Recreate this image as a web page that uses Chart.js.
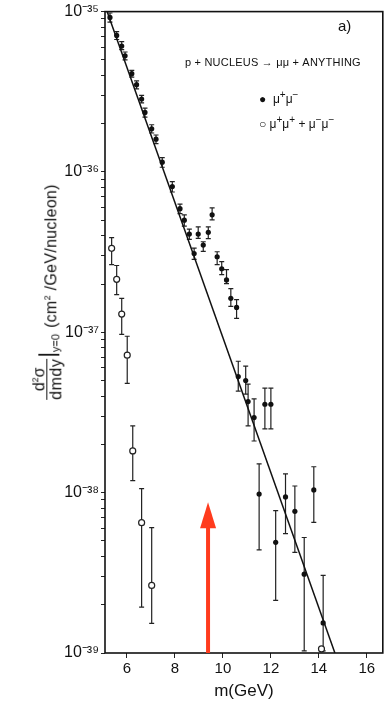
<!DOCTYPE html>
<html>
<head>
<meta charset="utf-8">
<script src="https://cdn.jsdelivr.net/npm/chart.js@4.4.1/dist/chart.umd.min.js"></script>
<style>
  body { margin: 0; background: #fff; }
  #wrap { position: relative; width: 388px; height: 706px; font-family: "Liberation Sans", Arial, sans-serif; color: #111; }
  canvas { position: absolute; left: 0; top: 0; }
  .note { position: absolute; white-space: nowrap; }
  #ytitle { position: absolute; left: 46px; top: 292px; white-space: nowrap; transform: translate(-50%, -50%) rotate(-90deg);
            display: flex; align-items: center; font-size: 16px; }
  .frac { display: inline-flex; flex-direction: column; align-items: center; line-height: 15px; }
  .frac .den { border-top: 1px solid #111; padding-top: 1px; letter-spacing: 0.5px; }
  .bar { font-size: 22px; margin-left: 1px; position: relative; top: 2px; }
  .bar sub { font-size: 11px; }
  .units { margin-left: 6px; position: relative; top: 5px; letter-spacing: 0.3px; }
</style>
</head>
<body>
<div id="wrap">
  <canvas id="chart" width="388" height="706"></canvas>
  <div class="note" style="left:338px; top:17px; font-size:15px;">a)</div>
  <div class="note" style="left:185px; top:56px; font-size:11px; letter-spacing:0.2px;">p + NUCLEUS → μμ + ANYTHING</div>
  <div class="note" style="left:259px; top:89px; font-size:12px;">● &nbsp;μ<sup>+</sup>μ<sup>−</sup></div>
  <div class="note" style="left:259px; top:114px; font-size:12px;">○ μ<sup>+</sup>μ<sup>+</sup> + μ<sup>−</sup>μ<sup>−</sup></div>
  <div id="ytitle">
    <span class="frac"><span>d<sup style="font-size:9px">2</sup>σ</span><span class="den">dmdy</span></span>
    <span class="bar">|<sub>y=0</sub></span>
    <span class="units">(cm<sup style="font-size:9px">2</sup> /GeV/nucleon)</span>
  </div>
</div>
<script>
// fitted line (two end points)
const fitMass = [5.17, 14.67];
const fitSigma = [1e-35, 1e-39];

// mu+ mu- (opposite sign), filled points
const oppMass = [5.29, 5.57, 5.78, 5.92, 6.20, 6.40, 6.61, 6.75, 7.03, 7.21, 7.47, 7.89, 8.21, 8.39, 8.60, 8.80,
                 8.97, 9.18, 9.39, 9.55, 9.76, 9.95, 10.15, 10.33, 10.57,
                 10.64, 10.95, 11.05, 11.30, 11.75, 12.00, 11.51, 12.20, 12.61, 13.00, 13.39, 13.79, 14.18];
const oppSigma = [9.2e-36, 7.1e-36, 6.1e-36, 5.3e-36, 4.1e-36, 3.5e-36, 2.85e-36, 2.35e-36, 1.86e-36, 1.6e-36, 1.15e-36, 8.1e-37, 5.9e-37, 5.0e-37, 4.1e-37, 3.1e-37,
                  4.1e-37, 3.5e-37, 4.2e-37, 5.4e-37, 2.96e-37, 2.49e-37, 2.12e-37, 1.63e-37, 1.43e-37,
                  5.3e-38, 5.0e-38, 3.7e-38, 2.94e-38, 3.56e-38, 3.56e-38, 9.8e-39, 4.9e-39, 9.4e-39, 7.65e-39, 3.1e-39, 1.04e-38, 1.54e-39];
const oppLow = [8.6e-36, 6.7e-36, 5.8e-36, 5.0e-36, 3.9e-36, 3.3e-36, 2.7e-36, 2.2e-36, 1.75e-36, 1.5e-36, 1.07e-36, 7.5e-37, 5.5e-37, 4.6e-37, 3.8e-37, 2.85e-37,
                3.85e-37, 3.2e-37, 3.84e-37, 5.03e-37, 2.64e-37, 2.29e-37, 2.01e-37, 1.45e-37, 1.22e-37,
                4.3e-38, 4.12e-38, 2.61e-38, 2.1e-38, 2.5e-38, 2.5e-38, 4.4e-39, 2.13e-39, 5.56e-39, 4.24e-39, 1.03e-39, 6.52e-39, 1.03e-39];
const oppHigh = [9.8e-36, 7.5e-36, 6.5e-36, 5.6e-36, 4.3e-36, 3.7e-36, 3.0e-36, 2.5e-36, 1.97e-36, 1.7e-36, 1.23e-36, 8.7e-37, 6.3e-37, 5.4e-37, 4.4e-37, 3.35e-37,
                 4.55e-37, 3.67e-37, 4.55e-37, 5.97e-37, 3.18e-37, 2.76e-37, 2.46e-37, 1.87e-37, 1.60e-37,
                 6.6e-38, 6.15e-38, 4.75e-38, 3.84e-38, 4.49e-38, 4.49e-38, 1.51e-38, 7.73e-39, 1.31e-38, 1.10e-38, 5.25e-39, 1.45e-38, 3.05e-39];

// mu+ mu+ + mu- mu- (like sign), open points
const likeMass = [5.36, 5.57, 5.78, 6.01, 6.24, 6.61, 7.03, 14.11];
const likeSigma = [3.34e-37, 2.14e-37, 1.30e-37, 7.2e-38, 1.82e-38, 6.5e-39, 2.64e-39, 1.06e-39];
const likeLow = [2.64e-37, 1.72e-37, 9.7e-38, 4.8e-38, 1.19e-38, 1.93e-39, 1.53e-39, 1.06e-39];
const likeHigh = [3.89e-37, 2.61e-37, 1.63e-37, 9.45e-38, 2.61e-38, 1.06e-38, 6.06e-39, 1.06e-39];

const massTicks = [6, 8, 10, 12, 14, 16];
const decades = [1e-39, 1e-38, 1e-37, 1e-36];
const minorSteps = [1, 2, 3, 4, 5, 6, 7, 8, 9];

// red arrow
const arrowMass = 9.38;
const arrowTop = 8.7e-39;

const sup = { '-': '⁻', '0': '⁰', '1': '¹', '2': '²', '3': '³', '4': '⁴', '5': '⁵', '6': '⁶', '7': '⁷', '8': '⁸', '9': '⁹' };
function powerLabel(v) {
    const e = Math.log10(v);
    if (Math.abs(e - Math.round(e)) > 1e-6) return '';
    return '10' + String(Math.round(e)).split('').map(c => sup[c]).join('');
}

const errorBars = {
    id: 'errorBars',
    beforeDatasetsDraw(chart) {
        const ctx = chart.ctx;
        const xs = chart.scales.x, ys = chart.scales.y;
        ctx.save();
        ctx.strokeStyle = '#222';
        ctx.lineWidth = 1.2;
        chart.data.datasets.forEach(ds => {
            if (!ds.errLow) return;
            ds.data.forEach((p, i) => {
                const px = xs.getPixelForValue(p.x);
                const y1 = ys.getPixelForValue(ds.errLow[i]);
                const y2 = ys.getPixelForValue(ds.errHigh[i]);
                if (Math.abs(y1 - y2) < 1) return;
                ctx.beginPath();
                ctx.moveTo(px, y1); ctx.lineTo(px, y2);
                ctx.moveTo(px - 2.5, y1); ctx.lineTo(px + 2.5, y1);
                ctx.moveTo(px - 2.5, y2); ctx.lineTo(px + 2.5, y2);
                ctx.stroke();
            });
        });
        ctx.restore();
    }
};

const frameAndArrow = {
    id: 'frameAndArrow',
    afterDatasetsDraw(chart) {
        const ctx = chart.ctx;
        const a = chart.chartArea;
        const xs = chart.scales.x, ys = chart.scales.y;
        ctx.save();
        ctx.strokeStyle = '#111';
        ctx.lineWidth = 1.6;
        ctx.strokeRect(a.left, a.top, a.right - a.left, a.bottom - a.top);

        const ax = xs.getPixelForValue(arrowMass);
        const tip = ys.getPixelForValue(arrowTop);
        ctx.strokeStyle = '#ff3b1d';
        ctx.fillStyle = '#ff3b1d';
        ctx.lineWidth = 4;
        ctx.beginPath();
        ctx.moveTo(ax, a.bottom);
        ctx.lineTo(ax, tip + 20);
        ctx.stroke();
        ctx.beginPath();
        ctx.moveTo(ax, tip);
        ctx.lineTo(ax - 8, tip + 26);
        ctx.lineTo(ax + 8, tip + 26);
        ctx.closePath();
        ctx.fill();
        ctx.restore();
    }
};

new Chart(document.getElementById('chart'), {
    type: 'scatter',
    data: {
        datasets: [
            {
                type: 'line',
                data: fitMass.map((m, i) => ({ x: m, y: fitSigma[i] })),
                borderColor: '#111',
                borderWidth: 1.5,
                pointRadius: 0
            },
            {
                data: oppMass.map((m, i) => ({ x: m, y: oppSigma[i] })),
                errLow: oppLow,
                errHigh: oppHigh,
                pointRadius: 2.6,
                backgroundColor: '#111',
                borderColor: '#111',
                borderWidth: 0
            },
            {
                data: likeMass.map((m, i) => ({ x: m, y: likeSigma[i] })),
                errLow: likeLow,
                errHigh: likeHigh,
                pointRadius: 3,
                backgroundColor: '#fff',
                borderColor: '#222',
                borderWidth: 1.2
            }
        ]
    },
    options: {
        responsive: false,
        animation: false,
        layout: { padding: { top: 9, right: 5, left: 0, bottom: 0 } },
        plugins: { legend: { display: false }, tooltip: { enabled: false } },
        scales: {
            x: {
                type: 'linear',
                min: 5.083,
                max: 16.667,
                afterBuildTicks: scale => { scale.ticks = massTicks.map(v => ({ value: v })); },
                afterFit: scale => { scale.height = 53; },
                border: { display: false },
                grid: { drawOnChartArea: false, tickLength: 5, color: '#222' },
                ticks: { color: '#111', padding: 2, font: { family: 'Liberation Sans', size: 15 } },
                title: { display: true, text: 'm(GeV)', color: '#111', padding: { top: 0 }, font: { family: 'Liberation Sans', size: 17 } }
            },
            y: {
                type: 'logarithmic',
                min: 1e-39,
                max: 1e-35,
                afterBuildTicks: scale => {
                    const t = [];
                    decades.forEach(d => minorSteps.forEach(s => t.push({ value: d * s, major: s === 1 })));
                    t.push({ value: 1e-35, major: true });
                    scale.ticks = t;
                },
                afterFit: scale => { scale.width = 105; },
                border: { display: false },
                grid: { drawOnChartArea: false, tickLength: 4, color: '#222' },
                ticks: {
                    autoSkip: false,
                    color: '#111',
                    padding: 2,
                    font: { family: 'Liberation Sans', size: 16 },
                    callback: v => powerLabel(v)
                }
            }
        }
    },
    plugins: [errorBars, frameAndArrow]
});
</script>
</body>
</html>
